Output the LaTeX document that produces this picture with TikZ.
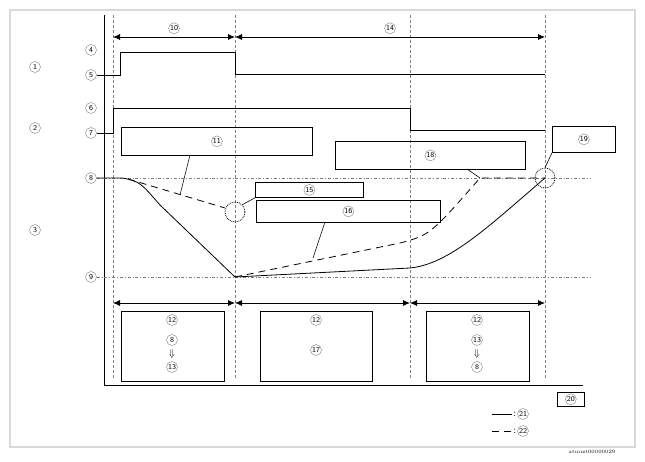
\documentclass[tikz,border=0pt]{standalone}
\usepackage{amssymb}
\usetikzlibrary{arrows.meta}
\tikzset{
  cn/.style={circle,draw=gray,thin,inner sep=0.5pt,minimum size=11pt,font=\sffamily\fontsize{7.5}{8}\selectfont},
  lbox/.style={draw,thick,anchor=north west},
  guide/.style={densely dashed,gray,thin},
  level/.style={dash dot,gray,thin},
  span/.style={thick,{Latex[length=7pt,width=6pt]}-{Latex[length=7pt,width=6pt]}},
  lead/.style={semithick},
}
\begin{document}
\begin{tikzpicture}[x=1pt,y=-1pt,line width=0.7pt]
\useasboundingbox (0,0) rectangle (645,462);
\draw[gray!30,line width=2pt] (10,10) rectangle (635,447);
% axes
\draw[semithick] (104,15) -- (104,385) -- (583,385);
\foreach \x in {113,235,410,545}
  \draw[guide] (\x,15) -- (\x,380);
% row labels
\node[cn] (r1) at (35,67) {1};
\node[cn] (r2) at (35,128) {2};
\node[cn] (r3) at (35,230) {3};
% spans
\coordinate (s1) at (113,37);
\coordinate (s2) at (235,37);
\coordinate (s3) at (545,37);
\draw[span] (s1) -- node[cn,above=3pt] (p10) {10} (s2);
\draw[span] (s2) -- node[cn,above=3pt] (p14) {14} (s3);
% signal 1
\node[cn] (p4) at (91,50) {4};
\node[cn] (p5) at (91,75) {5};
\draw[thick] (p5.east) -- (120,75) -- (120,52) -- (235,52) -- (235,74) -- (545,74);
% signal 2
\node[cn] (p6) at (91,108) {6};
\node[cn] (p7) at (91,133) {7};
\draw[thick] (p7.east) -- (113,133) -- (113,108) -- (410,108) -- (410,130) -- (545,130);
% levels
\node[cn] (p8) at (91,178) {8};
\node[cn] (p9) at (91,277) {9};
\draw[level] (p8.east) -- (590,178);
\draw[level] (p9.east) -- (590,277);
% curves
\draw[thick] (p8.east) -- (123,178) .. controls (140,182) .. (160,205) -- (235,277)
  -- (410,268) .. controls (450,264) and (490,225) .. (545,178);
\draw[thick,dash pattern=on 7pt off 5pt] (128,179) -- (225,208);
\draw[thick,dash pattern=on 7pt off 5pt] (235,277) -- (400,243) .. controls (430,235) .. (480,178) -- (545,178);
\node[circle,draw,densely dotted,thick,minimum size=20pt,inner sep=0pt] (c1) at (235,212) {};
\node[circle,draw,densely dotted,thick,minimum size=20pt,inner sep=0pt] (c2) at (545,178) {};
% callouts
\node[lbox,minimum width=191pt,minimum height=28pt] (b11) at (121,127) {};
\node[cn] at (b11.center) {11};
\draw[lead] (190,155) -- (180,195);
\node[lbox,minimum width=108pt,minimum height=15pt] (b15) at (255,182) {};
\node[cn] at (b15.center) {15};
\draw[lead] (b15.south west) -- (c1.north east);
\node[lbox,minimum width=184pt,minimum height=22pt] (b16) at (256,200) {};
\node[cn] at (b16.center) {16};
\draw[lead] (325,222) -- (313,258);
\node[lbox,minimum width=190pt,minimum height=28pt] (b18) at (335,141) {};
\node[cn] at (b18.center) {18};
\draw[lead] (467,169) -- (480,178);
\node[lbox,minimum width=63pt,minimum height=26pt] (b19) at (552,126) {};
\node[cn] at (b19.center) {19};
\draw[lead] (b19.south west) -- (c2.north);
% phases
\draw[span] (113,303) -- (235,303);
\draw[span] (235,303) -- (410,303);
\draw[span] (410,303) -- (545,303);
\node[lbox,minimum width=103pt,minimum height=70pt] (ph1) at (121,311) {};
\node[cn] at (172,320) {12};
\node[cn] at (172,340) {8};
\node at (172,354) {$\Downarrow$};
\node[cn] at (172,367) {13};
\node[lbox,minimum width=112pt,minimum height=70pt] (ph2) at (260,311) {};
\node[cn] at (316,320) {12};
\node[cn] at (316,350) {17};
\node[lbox,minimum width=103pt,minimum height=70pt] (ph3) at (426,311) {};
\node[cn] at (477,320) {12};
\node[cn] at (477,340) {13};
\node at (477,354) {$\Downarrow$};
\node[cn] at (477,367) {8};
% legend
\node[lbox,semithick,minimum width=27pt,minimum height=14pt] (b20) at (557,392) {};
\node[cn] at (b20.center) {20};
\draw[thick] (492,414) -- (512,414);
\node[anchor=west,inner sep=1pt] at (512,414) {:};
\node[cn] at (523,414) {21};
\draw[thick,dash pattern=on 7pt off 5pt] (492,431) -- (512,431);
\node[anchor=west,inner sep=1pt] at (512,431) {:};
\node[cn] at (523,431) {22};
\node[font=\fontsize{5}{5}\selectfont] at (592,452) {atuuzt00000029};
\end{tikzpicture}
\end{document}
